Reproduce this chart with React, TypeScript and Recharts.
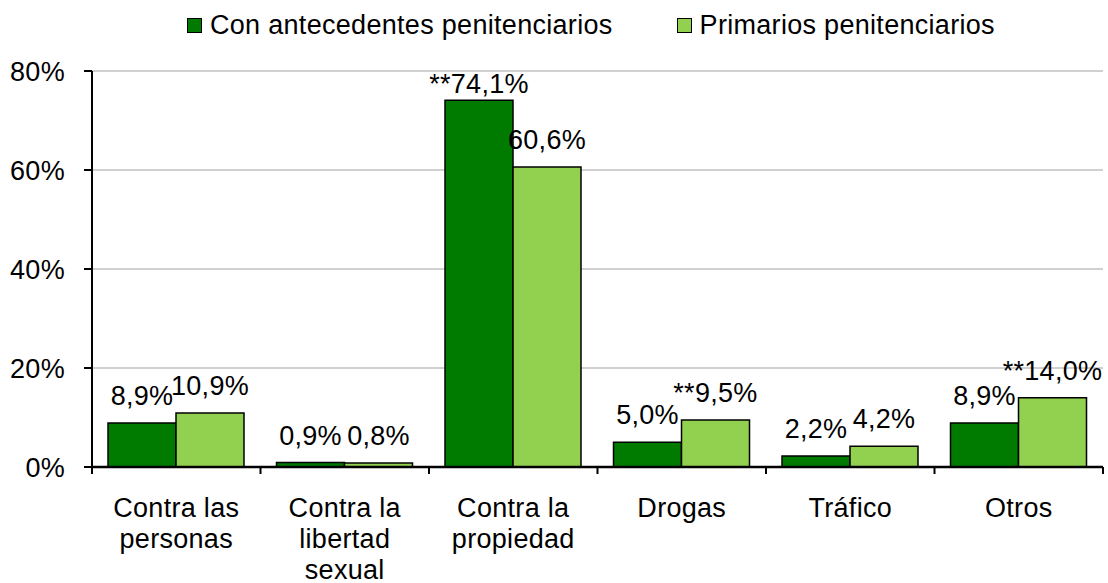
import React from 'react';
import { BarChart, Bar, XAxis, YAxis, CartesianGrid, LabelList } from 'recharts';

const categories = [
  ['Contra las', 'personas'],
  ['Contra la', 'libertad', 'sexual'],
  ['Contra la', 'propiedad'],
  ['Drogas'],
  ['Tráfico'],
  ['Otros'],
];
const conAntecedentes = [8.9, 0.9, 74.1, 5.0, 2.2, 8.9];
const primarios = [10.9, 0.8, 60.6, 9.5, 4.2, 14.0];
// ** marks in the labels
const conSignif = [false, false, true, false, false, false];
const primSignif = [false, false, false, true, false, true];
const yTicks = [0, 20, 40, 60, 80];

const SERIES = [
  { key: 'con', name: 'Con antecedentes penitenciarios', color: '#007b00', signif: conSignif },
  { key: 'prim', name: 'Primarios penitenciarios', color: '#92d050', signif: primSignif },
];

const FONT = '"Liberation Sans", Arial, sans-serif';
const FS = 27;
const LS = 0.3;
const W = 1108;
const H = 583;
const MARGIN = { top: 71, right: 5, left: 0, bottom: 0 };
const Y_AXIS_W = 92;
const X_AXIS_H = 116;
const BAND = (W - MARGIN.right - Y_AXIS_W) / categories.length;

const data = categories.map((lines, i) => ({
  name: lines.join(' '),
  lines,
  con: conAntecedentes[i],
  prim: primarios[i],
}));

const fmt = (v: number) => v.toFixed(1).replace('.', ',') + '%';

const makeLabel = (signif: boolean[]) => (props: any) => {
  const { x, y, width, value, index } = props;
  // keep labels inside the plot area, like the original
  const ty = Math.max(y - 18, MARGIN.top + 22);
  return (
    <text x={x + width / 2} y={ty} textAnchor="middle" fontSize={FS} letterSpacing={LS} fontFamily={FONT} fill="#000">
      {(signif[index] ? '**' : '') + fmt(value)}
    </text>
  );
};

const XTick = (props: any) => {
  const { x, y, payload, index } = props;
  const lines: string[] = data[index]?.lines ?? [payload.value];
  return (
    <g>
      <line x1={x - BAND / 2} x2={x - BAND / 2} y1={y} y2={y + 7} stroke="#000" strokeWidth={2} />
      {index === categories.length - 1 && (
        <line x1={x + BAND / 2} x2={x + BAND / 2} y1={y} y2={y + 7} stroke="#000" strokeWidth={2} />
      )}
      <text x={x} y={y + 50} textAnchor="middle" fontSize={FS} letterSpacing={LS} fontFamily={FONT} fill="#000">
        {lines.map((l, i) => (
          <tspan key={i} x={x} dy={i === 0 ? 0 : 31}>{l}</tspan>
        ))}
      </text>
    </g>
  );
};

function LegendBox() {
  return (
    <div style={{ position: 'absolute', top: 12, left: 187, display: 'flex', alignItems: 'center', fontFamily: FONT, fontSize: FS, letterSpacing: LS, lineHeight: `${FS}px`, color: '#000', whiteSpace: 'nowrap' }}>
      {SERIES.map((s, i) => (
        <div key={s.key} style={{ display: 'flex', alignItems: 'center', marginRight: i === 0 ? 64 : 0 }}>
          <span style={{ width: 13, height: 13, background: s.color, border: '1.5px solid #000', marginRight: 8, display: 'inline-block' }} />
          <span>{s.name}</span>
        </div>
      ))}
    </div>
  );
}

export default function App() {
  return (
    <div style={{ position: 'absolute', left: 0, top: 0, width: W, height: H, background: '#fff' }}>
      <BarChart width={W} height={H} data={data} margin={MARGIN} barCategoryGap="9.5%" barGap={0}>
        <CartesianGrid vertical={false} stroke="#c0c0c0" strokeWidth={1.5} />
        <XAxis
          dataKey="name"
          height={X_AXIS_H}
          interval={0}
          tickLine={false}
          tickSize={0}
          tickMargin={0}
          axisLine={{ stroke: '#000', strokeWidth: 2.5 }}
          tick={<XTick />}
        />
        <YAxis
          width={Y_AXIS_W}
          domain={[0, 80]}
          ticks={yTicks}
          tickFormatter={(v: number) => `${v}%`}
          tickSize={8}
          tickMargin={19}
          tickLine={{ stroke: '#000', strokeWidth: 2 }}
          axisLine={{ stroke: '#000', strokeWidth: 2 }}
          tick={{ fontSize: FS, fontFamily: FONT, fill: '#000', letterSpacing: LS }}
        />
        {SERIES.map((s) => (
          <Bar key={s.key} dataKey={s.key} name={s.name} fill={s.color} stroke="#000" strokeWidth={1.5} isAnimationActive={false}>
            <LabelList dataKey={s.key} content={makeLabel(s.signif)} />
          </Bar>
        ))}
      </BarChart>
      <LegendBox />
    </div>
  );
}
